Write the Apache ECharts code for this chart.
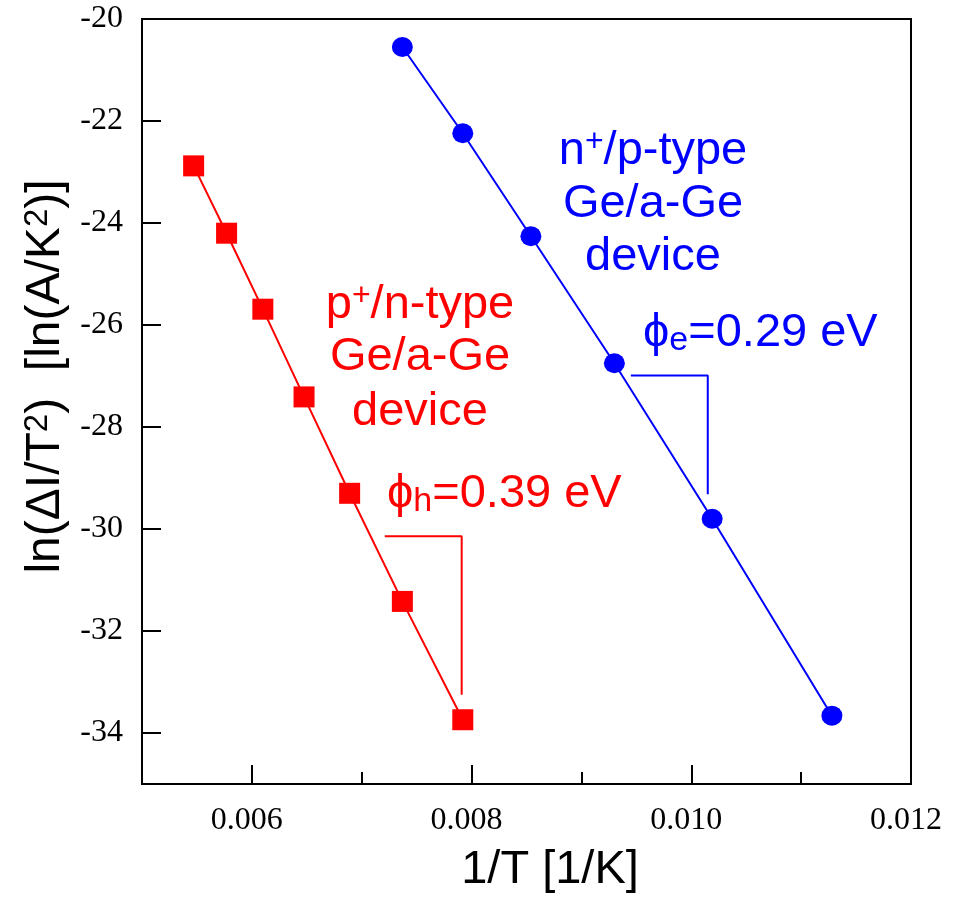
<!DOCTYPE html>
<html>
<head>
<meta charset="utf-8">
<title>ln(dI/T2) vs 1/T</title>
<script src="https://cdn.jsdelivr.net/npm/echarts@6/dist/echarts.min.js"></script>
<style>
html, body { margin: 0; padding: 0; background: #fff; }
#chart { width: 960px; height: 899px; }
</style>
</head>
<body>
<div id="chart"></div>
<script>
// p+/n-type Ge/a-Ge device (squares)
var pnX = [0.00547, 0.00577, 0.00610, 0.006475, 0.00689, 0.00737, 0.00792];
var pnY = [-22.88, -24.20, -25.69, -27.41, -29.30, -31.42, -33.74];
// n+/p-type Ge/a-Ge device (circles)
var npX = [0.00737, 0.00792, 0.00854, 0.00930, 0.01019, 0.01128];
var npY = [-20.55, -22.24, -24.26, -26.75, -29.80, -33.66];
// slope brackets (activation energy)
var pnSlopeX = [0.00721, 0.00791, 0.00791];
var pnSlopeY = [-30.14, -30.14, -33.25];
var npSlopeX = [0.00945, 0.01015, 0.01015];
var npSlopeY = [-26.99, -26.99, -29.32];
// ticks
var xMajorTicks = [0.006, 0.008, 0.010, 0.012];
var xMinorTicks = [0.007, 0.009, 0.011];
var yTicks = [-34, -32, -30, -28, -26, -24, -22, -20];

var RED = '#ff0000';
var BLUE = '#0000ff';
var SANS = 'Liberation Sans, Arial, sans-serif';
var SERIF = 'Liberation Serif, Times New Roman, serif';

function zip(xs, ys) {
	return xs.map(function (x, i) {
		return [x, ys[i]];
	});
}

var chart = echarts.init(document.getElementById('chart'));

// annotation text, rich tokens for super/subscripts
function note(text, x, y, color, align) {
	return {
		type: 'text',
		x: x,
		y: y,
		style: {
			text: text,
			align: align,
			verticalAlign: 'top',
			fill: color,
			rich: {
				a: { fontFamily: SANS, fontSize: 47, lineHeight: 50, fill: color },
				sup: { fontFamily: SANS, fontSize: 32, lineHeight: 44, verticalAlign: 'top', fill: color },
				sub: { fontFamily: SANS, fontSize: 34, lineHeight: 15, verticalAlign: 'bottom', fill: color },
			},
		},
	};
}

var option = {
	animation: false,
	backgroundColor: '#fff',
	grid: {
		left: 142,
		right: 49,
		top: 19,
		bottom: 111,
		show: true,
		borderColor: '#000',
		borderWidth: 2,
	},
	xAxis: [
		{
			type: 'value',
			min: 0.005,
			max: 0.012,
			name: '1/T [1/K]',
			nameLocation: 'middle',
			nameGap: 63,
			nameTextStyle: {
				fontFamily: SANS,
				fontSize: 47,
				lineHeight: 47,
				color: '#000',
				padding: [0, 0, 0, 47],
			},
			axisLine: { show: true, lineStyle: { color: '#000', width: 2 } },
			axisTick: {
				show: true,
				inside: true,
				length: 19,
				customValues: xMajorTicks,
				lineStyle: { color: '#000', width: 2 },
			},
			axisLabel: {
				customValues: xMajorTicks,
				margin: 21,
				fontFamily: SERIF,
				fontSize: 32,
				lineHeight: 32,
				color: '#000',
				padding: [0, 10, 0, 0],
				formatter: function (v) {
					return v.toFixed(3);
				},
			},
			splitLine: { show: false },
		},
		{
			type: 'value',
			min: 0.005,
			max: 0.012,
			position: 'bottom',
			axisLine: { show: false },
			axisTick: {
				show: true,
				inside: true,
				length: 12,
				customValues: xMinorTicks,
				lineStyle: { color: '#000', width: 2 },
			},
			axisLabel: { show: false },
			splitLine: { show: false },
		},
	],
	yAxis: {
		type: 'value',
		min: -35,
		max: -20,
		name: 'ln(ΔI/T{sup|2})  [ln(A/K{sup|2})]',
		nameLocation: 'middle',
		nameRotate: 90,
		nameGap: 70,
		nameTextStyle: {
			fontFamily: SANS,
			fontSize: 48,
			lineHeight: 48,
			color: '#000',
			padding: [0, 0, 0, 50],
			rich: {
				sup: { fontFamily: SANS, fontSize: 33, lineHeight: 10, verticalAlign: 'top', color: '#000' },
			},
		},
		axisLine: { show: true, lineStyle: { color: '#000', width: 2 } },
		axisTick: {
			show: true,
			inside: true,
			length: 19,
			customValues: yTicks,
			lineStyle: { color: '#000', width: 2 },
		},
		axisLabel: {
			customValues: yTicks,
			margin: 19,
			fontFamily: SERIF,
			fontSize: 32,
			color: '#000',
		},
		splitLine: { show: false },
	},
	series: [
		{
			name: 'p+/n-type Ge/a-Ge device',
			type: 'line',
			data: zip(pnX, pnY),
			symbol: 'rect',
			symbolSize: 21,
			itemStyle: { color: RED },
			lineStyle: { color: RED, width: 2 },
			z: 3,
		},
		{
			name: 'n+/p-type Ge/a-Ge device',
			type: 'line',
			data: zip(npX, npY),
			symbol: 'circle',
			symbolSize: [21, 20],
			itemStyle: { color: BLUE },
			lineStyle: { color: BLUE, width: 2 },
			z: 3,
		},
		{
			name: 'phi_h slope',
			type: 'line',
			data: zip(pnSlopeX, pnSlopeY),
			symbol: 'none',
			lineStyle: { color: RED, width: 2 },
		},
		{
			name: 'phi_e slope',
			type: 'line',
			data: zip(npSlopeX, npSlopeY),
			symbol: 'none',
			lineStyle: { color: BLUE, width: 2 },
		},
	],
	graphic: [
		note('{a|n}{sup|+}{a|/p-type}', 653, 126, BLUE, 'center'),
		note('{a|Ge/a-Ge}', 653, 179, BLUE, 'center'),
		note('{a|device}', 653, 232, BLUE, 'center'),
		note('{a|p}{sup|+}{a|/n-type}', 420, 280, RED, 'center'),
		note('{a|Ge/a-Ge}', 420, 332, RED, 'center'),
		note('{a|device}', 420, 387, RED, 'center'),
		note('{a|ϕ}{sub|e}{a|=0.29 eV}', 643, 308, BLUE, 'left'),
		note('{a|ϕ}{sub|h}{a|=0.39 eV}', 387, 469, RED, 'left'),
	],
};

chart.setOption(option);
window.addEventListener('resize', chart.resize);
</script>
</body>
</html>
